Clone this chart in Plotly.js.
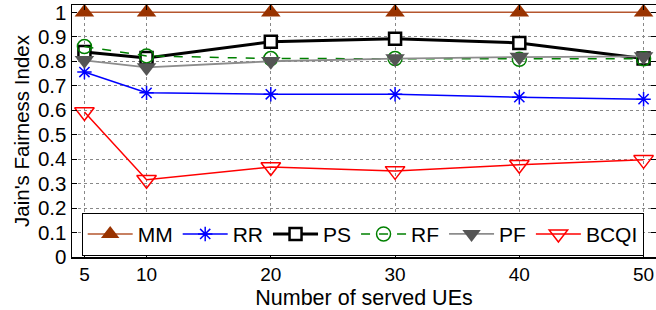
<!DOCTYPE html>
<html>
<head>
<meta charset="utf-8">
<script src="https://cdn.plot.ly/plotly-3.0.1.min.js"></script>
<style>html,body{margin:0;padding:0;background:#fff;}#chart{width:656px;height:310px;}</style>
</head>
<body>
<div id="chart"></div>
<script>
const users = [5, 10, 20, 30, 40, 50];
const mm   = [1, 1, 1, 1, 1, 1];
const rr   = [0.756, 0.671, 0.665, 0.665, 0.653, 0.645];
const ps   = [0.838, 0.813, 0.880, 0.892, 0.875, 0.811];
const rf   = [0.860, 0.822, 0.811, 0.811, 0.808, 0.810];
const pf   = [0.804, 0.775, 0.800, 0.811, 0.817, 0.820];
const bcqi = [0.593, 0.316, 0.368, 0.352, 0.377, 0.397];
const xTicks = [5, 10, 20, 30, 40, 50];
const yTicks = [0, 0.1, 0.2, 0.3, 0.4, 0.5, 0.6, 0.7, 0.8, 0.9, 1];

const traces = [
  {name:'MM', x:users, y:mm, mode:'lines+markers',
   line:{color:'#b5562e', width:1.5},
   marker:{symbol:'triangle-up', size:17, color:'#993300', line:{width:0}}},
  {name:'RR', x:users, y:rr, mode:'lines+markers',
   line:{color:'#0000ff', width:1.5},
   marker:{symbol:'asterisk-open', size:12, color:'#0000ff', line:{color:'#0000ff', width:1.5}}},
  {name:'PS', x:users, y:ps, mode:'lines+markers',
   line:{color:'#000000', width:3},
   marker:{symbol:'square', size:12, color:'#ffffff', line:{color:'#000000', width:2.5}}},
  {name:'RF', x:users, y:rf, mode:'lines+markers',
   line:{color:'#008000', width:1.5, dash:'dash'},
   marker:{symbol:'circle-open', size:14, color:'#008000', line:{color:'#008000', width:1.5}}},
  {name:'PF', x:users, y:pf, mode:'lines+markers',
   line:{color:'#8c8c8c', width:1.8},
   marker:{symbol:'triangle-down', size:17, color:'#555555', line:{width:0}}},
  {name:'BCQI', x:users, y:bcqi, mode:'lines+markers',
   line:{color:'#ff0000', width:1.5},
   marker:{symbol:'triangle-down-open', size:17, color:'#ff0000', line:{color:'#ff0000', width:1.5}}}
];

const fam = 'Liberation Sans';

const layout = {
  width:656, height:310,
  margin:{l:72, r:0, t:5, b:53},
  paper_bgcolor:'#fff', plot_bgcolor:'#fff',
  font:{family:fam, color:'#000'},
  showlegend:true,
  legend:{orientation:'h', x:0.0166, xanchor:'left', y:0.09, yanchor:'middle',
    bgcolor:'#fff', bordercolor:'#000', borderwidth:1,
    font:{family:fam, size:21, color:'#000'},
    itemwidth:45, tracegroupgap:0},
  xaxis:{range:[4, 51], tickvals:xTicks, ticktext:xTicks.map(String),
    ticks:'inside', ticklen:5, tickcolor:'#000', mirror:'ticks',
    showline:true, linecolor:'#000', linewidth:1.5,
    showgrid:true, gridcolor:'#888', griddash:'dot', gridwidth:1, zeroline:false,
    tickfont:{family:fam, size:19, color:'#000'},
    title:{text:'Number of served UEs', font:{family:fam, size:21.5, color:'#000'}, standoff:7}},
  yaxis:{range:[0, 1.03], tickvals:yTicks, ticktext:yTicks.map(String),
    ticks:'inside', ticklen:5, tickcolor:'#000', mirror:'ticks',
    showline:true, linecolor:'#000', linewidth:1.5,
    showgrid:true, gridcolor:'#888', griddash:'dot', gridwidth:1, zeroline:false,
    tickfont:{family:fam, size:20.5, color:'#000'},
    title:{text:"Jain's Fairness Index", font:{family:fam, size:20.5, color:'#000'}, standoff:2}}
};

Plotly.newPlot('chart', traces, layout, {displayModeBar:false, staticPlot:true});
</script>
</body>
</html>
